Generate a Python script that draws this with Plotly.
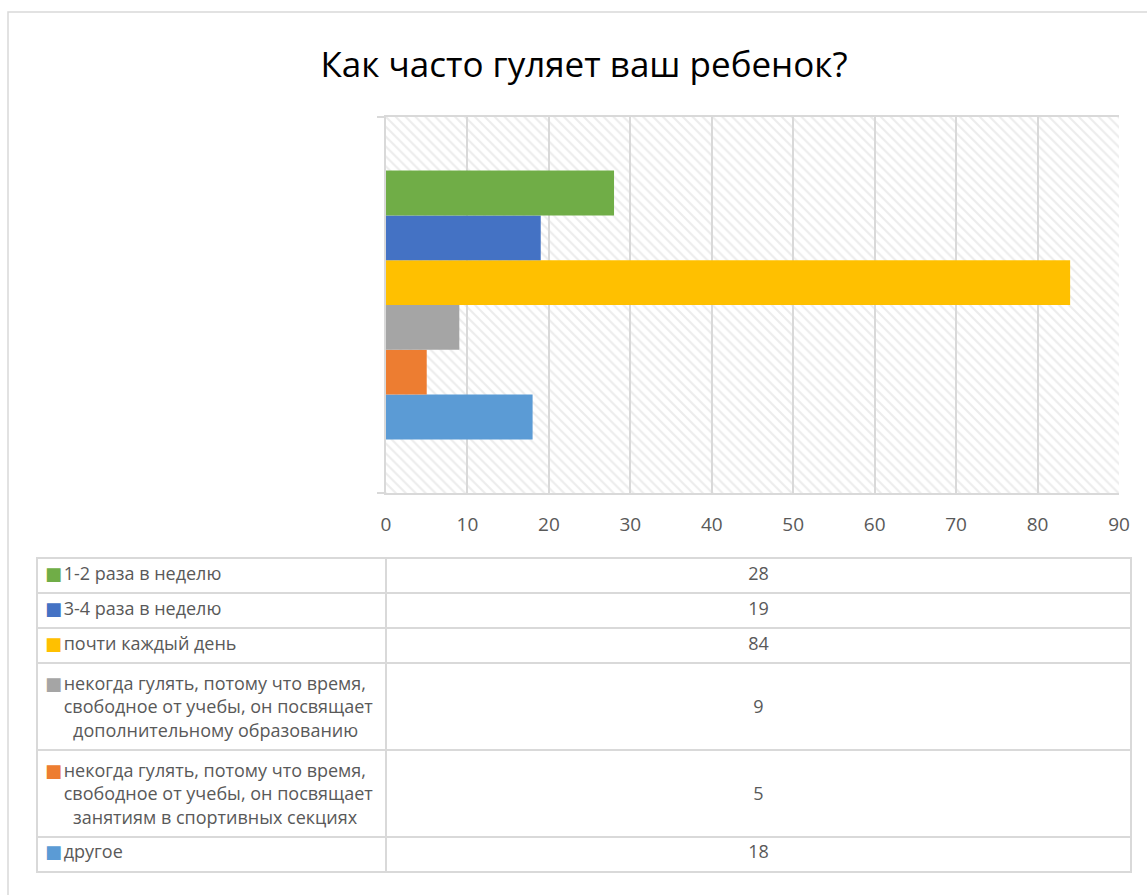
import plotly.graph_objects as go

# Survey answers: "How often does your child go out for a walk?"
title = "Как часто гуляет ваш ребенок?"
answers = [
    "1-2 раза в неделю",
    "3-4 раза в неделю",
    "почти каждый день",
    "некогда гулять, потому что время,<br>свободное от учебы, он посвящает<br>дополнительному образованию",
    "некогда гулять, потому что время,<br>свободное от учебы, он посвящает<br>занятиям в спортивных секциях",
    "другое",
]
counts = [28, 19, 84, 9, 5, 18]
x_ticks = [0, 10, 20, 30, 40, 50, 60, 70, 80, 90]

COLORS = ["#70AD47", "#4472C4", "#FFC000", "#A5A5A5", "#ED7D31", "#5B9BD5"]
GRID = "#d9d9d9"
TEXT = "#595959"
FONT = "Open Sans"
FS = 18

W, H = 1147, 895
NB = "\u00a0"


def px_x(v):
    return v / W


def px_y(v):
    return 1 - v / H


def label_cell(text):
    # plain spaces / markup make plotly grow the row, so use nbsp everywhere;
    # the indents leave room for the key and mimic Excel's centred wrap
    lines = text.replace(" ", NB).split("<br>")
    out = [NB * 4 + lines[0]]
    for i, ln in enumerate(lines[1:]):
        out.append(NB * (4 + 2 * i) + ln)
    return "<br>".join(out)


def key_cell(text):
    # same number of lines as the label so both tables get equal row heights
    n = text.count("<br>")
    return "<br>".join(["■" + NB] + [NB] * n)


def value_cell(text, value):
    # Excel centres the number vertically in tall rows
    return (NB + "<br>") * (text.count("<br>") // 2) + str(value)


fig = go.Figure()

# hatched plot-area background (Excel "wide downward diagonal" fill)
fig.add_trace(go.Bar(
    x=[x_ticks[-1]], y=[0], width=[1], orientation="h",
    marker=dict(color="rgba(0,0,0,0)", line=dict(width=0),
                pattern=dict(shape="\\", fgcolor=GRID, size=7, solidity=0.3)),
    hoverinfo="skip", showlegend=False, xaxis="x", yaxis="y",
))

# one bar per answer; added in reverse so the first answer sits on top
for name, val, col in reversed(list(zip(answers, counts, COLORS))):
    fig.add_trace(go.Bar(
        x=[val], y=[0], orientation="h", name=name.replace("<br>", " "),
        marker=dict(color=col, line=dict(width=0)),
        xaxis="x", yaxis="y2", showlegend=False,
    ))

# data table under the chart
table_dom_y = [px_y(885), px_y(558)]
fig.add_trace(go.Table(
    domain=dict(x=[px_x(37), px_x(1131)], y=table_dom_y),
    columnwidth=[349, 745],
    header=dict(values=["", ""], height=0, line=dict(width=0),
                fill=dict(color="rgba(0,0,0,0)")),
    cells=dict(
        values=[[label_cell(a) for a in answers],
                [value_cell(a, v) for a, v in zip(answers, counts)]],
        align=["left", "center"],
        height=35,
        line=dict(color=GRID, width=2),
        fill=dict(color="white"),
        font=dict(family=FONT, size=FS, color=TEXT),
    ),
))

# legend keys laid over the first column
fig.add_trace(go.Table(
    domain=dict(x=[px_x(37), px_x(100)], y=table_dom_y),
    header=dict(values=[""], height=0, line=dict(width=0),
                fill=dict(color="rgba(0,0,0,0)")),
    cells=dict(
        values=[[key_cell(a) for a in answers]],
        align="left",
        height=35,
        line=dict(width=0),
        fill=dict(color="rgba(0,0,0,0)"),
        font=dict(family=FONT + ", DejaVu Sans", size=FS, color=[COLORS]),
    ),
))

fig.update_layout(
    width=W, height=H,
    margin=dict(l=0, r=0, t=0, b=0, autoexpand=False),
    paper_bgcolor="white", plot_bgcolor="rgba(0,0,0,0)",
    barmode="group", bargap=0.285, bargroupgap=0,
    showlegend=False,
    title=dict(text=title, x=px_x(584), y=px_y(65), xanchor="center", yanchor="middle",
               font=dict(family=FONT, size=35, color="#000000")),
    xaxis=dict(
        domain=[px_x(386), px_x(1119)], range=[x_ticks[0], x_ticks[-1]],
        tickvals=x_ticks, showgrid=True, gridcolor=GRID, gridwidth=2,
        showline=True, linecolor=GRID, linewidth=2, mirror=True,
        zeroline=False, ticks="", ticklabelstandoff=13, automargin=False,
        tickfont=dict(family=FONT, size=19, color=TEXT),
    ),
    yaxis=dict(
        domain=[px_y(493), px_y(117)], range=[-0.5, 0.5], automargin=False,
        showticklabels=False, showgrid=False, zeroline=False,
        showline=True, linecolor=GRID, linewidth=2,
        ticks="outside", tickvals=[-0.5, 0.5], ticklen=7, tickcolor=GRID, tickwidth=2,
    ),
    yaxis2=dict(
        overlaying="y", range=[-0.5, 0.5], visible=False, automargin=False,
    ),
    shapes=[dict(type="rect", xref="paper", yref="paper",
                 x0=px_x(8), x1=1.05, y0=px_y(12), y1=-0.05,
                 line=dict(color=GRID, width=1.5), layer="below")],
)

fig.write_html("out.html", config={"displayModeBar": False},
               post_script="document.body.style.margin='0';")
